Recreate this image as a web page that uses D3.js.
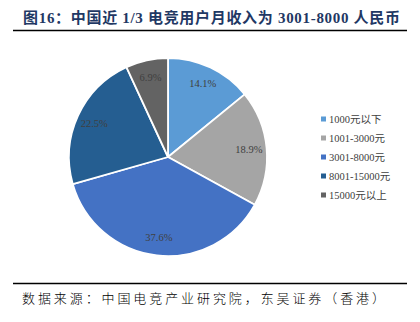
<!DOCTYPE html>
<html>
<head>
<meta charset="utf-8">
<script src="https://cdn.jsdelivr.net/npm/d3@7"></script>
<style>
  html, body { margin: 0; padding: 0; background: #fff; }
  svg { display: block; }
</style>
</head>
<body>
<svg id="chart" width="420" height="322"></svg>
<script>
// Income brackets of esports users and their shares (%)
const categories = ["1000元以下", "1001-3000元", "3001-8000元", "8001-15000元", "15000元以上"];
const shares = [14.1, 18.9, 37.6, 22.5, 6.9];
const sliceColors = ["#5B9BD5", "#A5A5A5", "#4472C4", "#255E91", "#636363"];

const titleText = "图16：中国近 1/3 电竞用户月收入为 3001-8000 人民币";
const sourceText = "数据来源：中国电竞产业研究院，东吴证券（香港）";

const svg = d3.select("#chart");
const serif = "'Liberation Serif', 'Times New Roman', 'Noto Sans CJK SC', serif";

// Spread a text's letters so it spans the given width
function spreadTo(sel, width) {
  const node = sel.node();
  const natural = node.getComputedTextLength();
  const n = node.getNumberOfChars();
  if (n > 1 && natural < width) sel.attr("letter-spacing", (width - natural) / (n - 1));
}

// Title and rules
const title = svg.append("text")
  .attr("x", 23).attr("y", 23)
  .attr("font-family", serif)
  .attr("font-weight", "bold")
  .attr("font-size", 15)
  .attr("fill", "#1F3864")
  .text(titleText);
spreadTo(title, 377);

svg.append("line")
  .attr("x1", 13).attr("x2", 407).attr("y1", 30.5).attr("y2", 30.5)
  .attr("stroke", "#000").attr("stroke-width", 1.5);

svg.append("line")
  .attr("x1", 13).attr("x2", 407).attr("y1", 283.5).attr("y2", 283.5)
  .attr("stroke", "#000").attr("stroke-width", 1.5);

const source = svg.append("text")
  .attr("x", 22).attr("y", 303)
  .attr("font-family", "'Noto Sans CJK SC', sans-serif")
  .attr("font-weight", 300)
  .attr("font-size", 13)
  .attr("fill", "#000")
  .text(sourceText);
spreadTo(source, 363);

// Pie
const cx = 168, cy = 157, radius = 99;
const pie = d3.pie().sort(null).value(d => d)(shares);
const arc = d3.arc().innerRadius(0).outerRadius(radius);
const labelArc = d3.arc().innerRadius(radius * 0.82).outerRadius(radius * 0.82);

const g = svg.append("g").attr("transform", `translate(${cx},${cy})`);

g.selectAll("path")
  .data(pie)
  .join("path")
  .attr("d", arc)
  .attr("fill", (d, i) => sliceColors[i])
  .attr("stroke", "#fff")
  .attr("stroke-width", 1.8)
  .attr("stroke-linejoin", "round");

g.selectAll("text.val")
  .data(pie)
  .join("text")
  .attr("class", "val")
  .attr("transform", d => `translate(${labelArc.centroid(d)})`)
  .attr("text-anchor", "middle")
  .attr("dominant-baseline", "central")
  .attr("font-family", serif)
  .attr("font-size", 10.5)
  .attr("fill", "#404040")
  .text(d => d.data.toFixed(1) + "%");

// Legend
const legend = svg.append("g").attr("transform", "translate(321,119)");
const rowH = 19;
const item = legend.selectAll("g")
  .data(categories)
  .join("g")
  .attr("transform", (d, i) => `translate(0,${i * rowH})`);

item.append("rect")
  .attr("x", 0).attr("y", -2.5)
  .attr("width", 5).attr("height", 5)
  .attr("fill", (d, i) => sliceColors[i]);

item.append("text")
  .attr("x", 8).attr("y", 0)
  .attr("dominant-baseline", "central")
  .attr("font-family", serif)
  .attr("font-size", 10.5)
  .attr("fill", "#404040")
  .text(d => d);
</script>
</body>
</html>
